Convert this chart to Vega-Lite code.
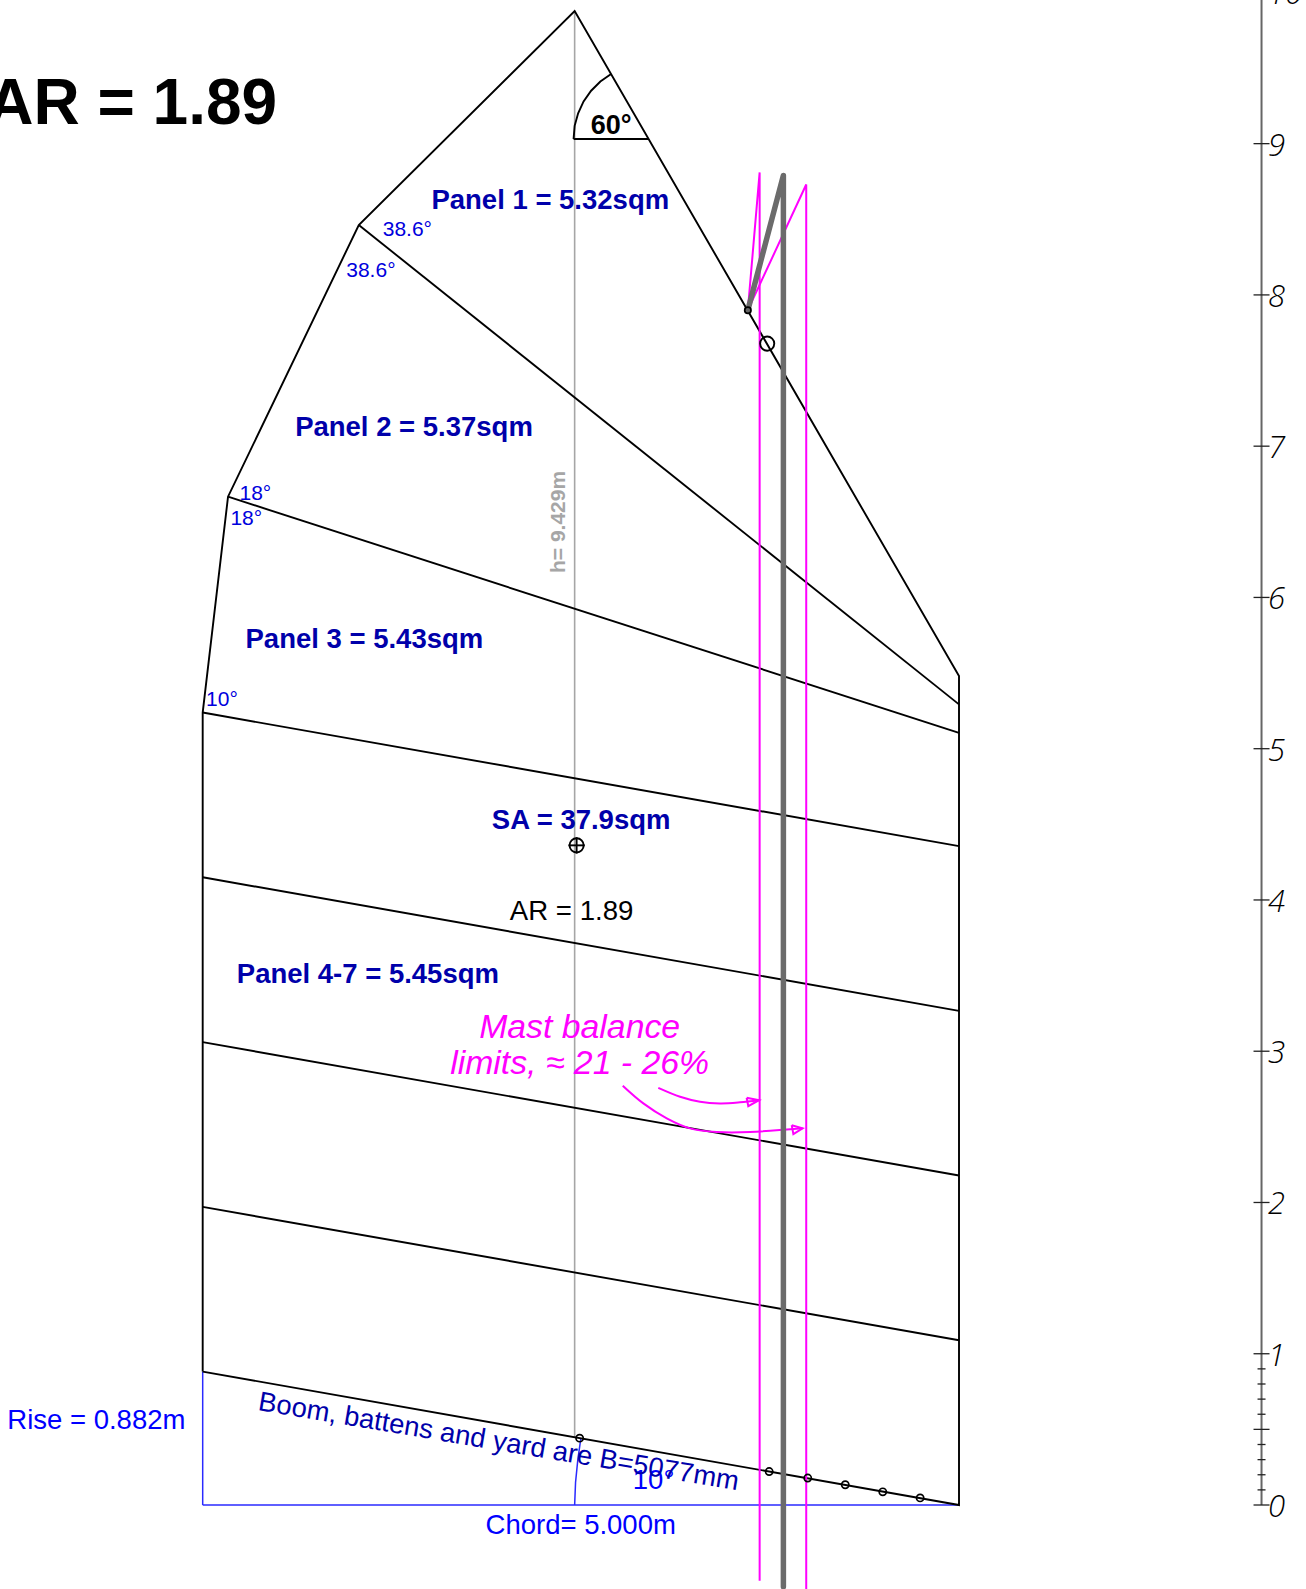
{
"$schema":"https://vega.github.io/schema/vega-lite/v6.json",
"width":1306,"height":1589,"padding":0,"autosize":{"type":"none"},"background":"white",
"config":{"view":{"stroke":null},"text":{"font":"Liberation Sans"}},
"encoding":{
"x":{"field":"x","type":"quantitative","axis":null,"scale":{"domain":[-1.34,7.294],"nice":false,"zero":false}},
"y":{"field":"y","type":"quantitative","axis":null,"scale":{"domain":[-0.5553,9.9497],"nice":false,"zero":false}}
},
"layer":[
{"data":{"values":[
{"id":"chord","ord":0,"x":0,"y":0},{"id":"chord","ord":1,"x":5,"y":0},
{"id":"rise","ord":0,"x":0,"y":0},{"id":"rise","ord":1,"x":0,"y":0.882},
{"id":"arc","ord":0,"x":2.459,"y":0},{"id":"arc","ord":1,"x":2.465,"y":0.15},{"id":"arc","ord":2,"x":2.48,"y":0.3},{"id":"arc","ord":3,"x":2.5,"y":0.44}
]},"mark":{"type":"line","stroke":"#2a2aff","strokeWidth":1.5},"encoding":{"detail":{"field":"id"},"order":{"field":"ord"}}},
{"data":{"values":[{"id":"h","ord":0,"x":2.459,"y":9.876},{"id":"h","ord":1,"x":2.459,"y":0.45}]},
"mark":{"type":"line","stroke":"#a6a6a6","strokeWidth":1.6},"encoding":{"detail":{"field":"id"},"order":{"field":"ord"}}},
{"data":{"values":[
{"id":"outline","ord":0,"x":0,"y":0.882},{"id":"outline","ord":1,"x":0,"y":5.239},{"id":"outline","ord":2,"x":0.1675,"y":6.666},{"id":"outline","ord":3,"x":1.032,"y":8.462},{"id":"outline","ord":4,"x":2.459,"y":9.876},{"id":"outline","ord":5,"x":5,"y":5.48},{"id":"outline","ord":6,"x":5,"y":0},{"id":"outline","ord":7,"x":0,"y":0.882},
{"id":"b1","ord":0,"x":0,"y":1.971},{"id":"b1","ord":1,"x":5,"y":1.089},
{"id":"b2","ord":0,"x":0,"y":3.06},{"id":"b2","ord":1,"x":5,"y":2.178},
{"id":"b3","ord":0,"x":0,"y":4.15},{"id":"b3","ord":1,"x":5,"y":3.267},
{"id":"b4","ord":0,"x":0,"y":5.239},{"id":"b4","ord":1,"x":5,"y":4.356},
{"id":"b5","ord":0,"x":0.1675,"y":6.666},{"id":"b5","ord":1,"x":5,"y":5.105},
{"id":"b6","ord":0,"x":1.032,"y":8.462},{"id":"b6","ord":1,"x":5,"y":5.293},
{"id":"arc60","ord":0,"x":2.452,"y":9.031},{"id":"arc60","ord":1,"x":2.459,"y":9.118},{"id":"arc60","ord":2,"x":2.482,"y":9.201},{"id":"arc60","ord":3,"x":2.518,"y":9.279},{"id":"arc60","ord":4,"x":2.568,"y":9.35},{"id":"arc60","ord":5,"x":2.629,"y":9.411},{"id":"arc60","ord":6,"x":2.7,"y":9.461},
{"id":"base60","ord":0,"x":2.452,"y":9.031},{"id":"base60","ord":1,"x":2.948,"y":9.031},
{"id":"ceh","ord":0,"x":2.418,"y":4.361},{"id":"ceh","ord":1,"x":2.526,"y":4.361},
{"id":"cev","ord":0,"x":2.472,"y":4.307},{"id":"cev","ord":1,"x":2.472,"y":4.415}
]},"mark":{"type":"line","stroke":"black","strokeWidth":1.9},"encoding":{"detail":{"field":"id"},"order":{"field":"ord"}}},
{"data":{"values":[
{"id":"lim1","ord":0,"x":3.604,"y":7.899},{"id":"lim1","ord":1,"x":3.682,"y":8.81},{"id":"lim1","ord":2,"x":3.682,"y":-0.5},
{"id":"lim2","ord":0,"x":3.604,"y":7.899},{"id":"lim2","ord":1,"x":3.99,"y":8.73},{"id":"lim2","ord":2,"x":3.99,"y":-0.56},
{"id":"ah","ord":0,"x":3.596,"y":2.692},{"id":"ah","ord":1,"x":3.678,"y":2.676},{"id":"ah","ord":2,"x":3.607,"y":2.637},{"id":"ah","ord":3,"x":3.596,"y":2.692},
{"id":"bh","ord":0,"x":3.894,"y":2.511},{"id":"bh","ord":1,"x":3.966,"y":2.49},{"id":"bh","ord":2,"x":3.905,"y":2.452},{"id":"bh","ord":3,"x":3.894,"y":2.511}
]},"mark":{"type":"line","stroke":"#ff00ff","strokeWidth":2},"encoding":{"detail":{"field":"id"},"order":{"field":"ord"}}},
{"data":{"values":[
{"id":"a","ord":0,"x":3.012,"y":2.758},{"id":"a","ord":1,"x":3.156,"y":2.699},{"id":"a","ord":2,"x":3.288,"y":2.666},{"id":"a","ord":3,"x":3.42,"y":2.655},{"id":"a","ord":4,"x":3.552,"y":2.662},{"id":"a","ord":5,"x":3.678,"y":2.676},
{"id":"b","ord":0,"x":2.777,"y":2.772},{"id":"b","ord":1,"x":2.913,"y":2.655},{"id":"b","ord":2,"x":3.068,"y":2.556},{"id":"b","ord":3,"x":3.222,"y":2.49},{"id":"b","ord":4,"x":3.398,"y":2.466},{"id":"b","ord":5,"x":3.618,"y":2.466},{"id":"b","ord":6,"x":3.966,"y":2.49}
]},"mark":{"type":"line","stroke":"#ff00ff","strokeWidth":2,"interpolate":"cardinal"},"encoding":{"detail":{"field":"id"},"order":{"field":"ord"}}},
{"data":{"values":[{"id":"mast","ord":0,"x":3.839,"y":-0.54},{"id":"mast","ord":1,"x":3.839,"y":8.79},{"id":"mast","ord":2,"x":3.604,"y":7.899}]},
"mark":{"type":"line","stroke":"#6b6b6b","strokeWidth":5.5,"strokeCap":"round","strokeJoin":"round"},"encoding":{"detail":{"field":"id"},"order":{"field":"ord"}}},
{"data":{"values":[{"x":3.604,"y":7.899}]},"mark":{"type":"point","shape":"circle","size":40,"filled":true,"fill":"#666666","stroke":"black","strokeWidth":1.7,"opacity":1}},
{"data":{"values":[{"x":3.732,"y":7.678},{"x":2.472,"y":4.361}]},"mark":{"type":"point","shape":"circle","size":200,"filled":false,"stroke":"black","strokeWidth":1.9,"opacity":1}},
{"data":{"values":[{"x":2.492,"y":0.442},{"x":3.745,"y":0.221},{"x":4.0,"y":0.178},{"x":4.248,"y":0.134},{"x":4.496,"y":0.087},{"x":4.743,"y":0.047}]},"mark":{"type":"point","shape":"circle","size":52,"filled":false,"stroke":"black","strokeWidth":1.7,"opacity":1}},
{"data":{"values":[{"id":"r","ord":0,"x":7,"y":0},{"id":"r","ord":1,"x":7,"y":9.9497}]},"mark":{"type":"line","stroke":"#666666","strokeWidth":2},"encoding":{"detail":{"field":"id"},"order":{"field":"ord"}}},
{"data":{"values":[{"x":7,"y":0},{"x":7,"y":0.5},{"x":7,"y":1},{"x":7,"y":2},{"x":7,"y":3},{"x":7,"y":4},{"x":7,"y":5},{"x":7,"y":6},{"x":7,"y":7},{"x":7,"y":8},{"x":7,"y":9}]},"mark":{"type":"point","shape":"stroke","size":256,"filled":false,"stroke":"#222222","strokeWidth":1.3,"opacity":1}},
{"data":{"values":[{"x":7,"y":0.1},{"x":7,"y":0.2},{"x":7,"y":0.3},{"x":7,"y":0.4},{"x":7,"y":0.6},{"x":7,"y":0.7},{"x":7,"y":0.8},{"x":7,"y":0.9}]},"mark":{"type":"point","shape":"stroke","size":64,"filled":false,"stroke":"#222222","strokeWidth":1.3,"opacity":1}},
{"data":{"values":[{"x":7.043,"y":0,"t":"0"},{"x":7.043,"y":1,"t":"1"},{"x":7.043,"y":2,"t":"2"},{"x":7.043,"y":3,"t":"3"},{"x":7.043,"y":4,"t":"4"},{"x":7.043,"y":5,"t":"5"},{"x":7.043,"y":6,"t":"6"},{"x":7.043,"y":7,"t":"7"},{"x":7.043,"y":8,"t":"8"},{"x":7.043,"y":9,"t":"9"},{"x":7.043,"y":10,"t":"10"}]},
"mark":{"type":"text","font":"Open Sans","fontStyle":"italic","fontWeight":300,"fontSize":31,"dy":3,"align":"left","baseline":"middle","color":"black"},"encoding":{"text":{"field":"t"}}},
{"data":{"values":[{"x":0.492,"y":9.279,"t":"AR = 1.89"}]},"mark":{"type":"text","fontWeight":"bold","fontSize":64,"dy":4,"align":"right","baseline":"middle","color":"black"},"encoding":{"text":{"field":"t"}}},
{"data":{"values":[{"x":2.298,"y":8.629,"t":"Panel 1 = 5.32sqm"},{"x":1.397,"y":7.128,"t":"Panel 2 = 5.37sqm"},{"x":1.069,"y":5.722,"t":"Panel 3 = 5.43sqm"},{"x":2.502,"y":4.529,"t":"SA = 37.9sqm"},{"x":1.092,"y":3.511,"t":"Panel 4-7 = 5.45sqm"}]},
"mark":{"type":"text","fontWeight":"bold","fontSize":27.5,"dy":1,"align":"center","baseline":"middle","color":"#0000aa"},"encoding":{"text":{"field":"t"}}},
{"data":{"values":[{"x":1.353,"y":8.435,"t":"38.6°"},{"x":1.112,"y":8.167,"t":"38.6°"},{"x":0.348,"y":6.693,"t":"18°"},{"x":0.288,"y":6.526,"t":"18°"},{"x":0.127,"y":5.326,"t":"10°"}]},
"mark":{"type":"text","fontSize":21,"dy":1,"align":"center","baseline":"middle","color":"#0000dd"},"encoding":{"text":{"field":"t"}}},
{"data":{"values":[{"x":2.7,"y":9.125,"t":"60°"}]},"mark":{"type":"text","fontWeight":"bold","fontSize":27,"dy":1,"align":"center","baseline":"middle","color":"black"},"encoding":{"text":{"field":"t"}}},
{"data":{"values":[{"x":2.439,"y":3.926,"t":"AR = 1.89"}]},"mark":{"type":"text","fontSize":27.6,"dy":1,"align":"center","baseline":"middle","color":"black"},"encoding":{"text":{"field":"t"}}},
{"data":{"values":[{"x":2.492,"y":3.162,"t":"Mast balance"},{"x":2.492,"y":2.921,"t":"limits, ≈ 21 - 26%"}]},"mark":{"type":"text","fontStyle":"italic","fontSize":33.8,"dy":1,"align":"center","baseline":"middle","color":"#ff00ff"},"encoding":{"text":{"field":"t"}}},
{"data":{"values":[{"x":-0.703,"y":0.563,"t":"Rise = 0.882m"},{"x":2.499,"y":-0.134,"t":"Chord= 5.000m"},{"x":2.981,"y":0.167,"t":"10°"}]},"mark":{"type":"text","fontSize":27.5,"dy":1,"align":"center","baseline":"middle","color":"#0000ff"},"encoding":{"text":{"field":"t"}}},
{"data":{"values":[{"x":1.956,"y":0.415,"t":"Boom, battens and yard are B=5077mm"}]},"mark":{"type":"text","fontSize":27.4,"angle":9.5,"align":"center","baseline":"middle","color":"#0000aa"},"encoding":{"text":{"field":"t"}}},
{"data":{"values":[{"x":2.358,"y":6.499,"t":"h= 9.429m"}]},"mark":{"type":"text","fontWeight":"bold","fontSize":21,"angle":270,"align":"center","baseline":"middle","color":"#a6a6a6"},"encoding":{"text":{"field":"t"}}}
]
}
